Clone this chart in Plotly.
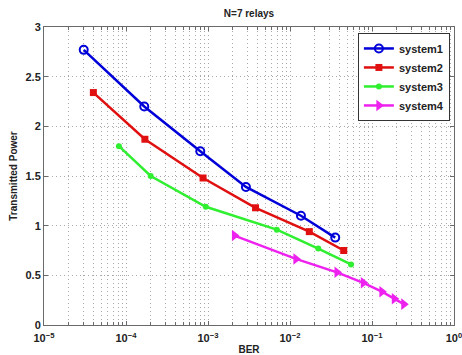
import plotly.graph_objects as go

# Transmitted power vs. BER for four relay systems (N = 7 relays)
ber_sys1 = [3.05e-5, 1.67e-4, 8.05e-4, 2.9e-3, 1.36e-2, 3.56e-2]
pow_sys1 = [2.77, 2.20, 1.75, 1.39, 1.10, 0.88]

ber_sys2 = [4.0e-5, 1.7e-4, 8.7e-4, 3.8e-3, 1.72e-2, 4.52e-2]
pow_sys2 = [2.34, 1.87, 1.48, 1.18, 0.94, 0.75]

ber_sys3 = [8.2e-5, 2.0e-4, 9.4e-4, 6.9e-3, 2.21e-2, 5.55e-2]
pow_sys3 = [1.80, 1.50, 1.19, 0.96, 0.77, 0.61]

ber_sys4 = [2.1e-3, 1.18e-2, 3.74e-2, 7.84e-2, 0.132, 0.187, 0.244]
pow_sys4 = [0.90, 0.665, 0.53, 0.425, 0.335, 0.265, 0.21]

x_tick_vals = [1e-5, 1e-4, 1e-3, 1e-2, 1e-1, 1e0]
x_tick_text = ["10<sup>\u22125</sup>", "10<sup>\u22124</sup>", "10<sup>\u22123</sup>",
               "10<sup>\u22122</sup>", "10<sup>\u22121</sup>", "10<sup>0</sup>"]
y_tick_vals = [0, 0.5, 1, 1.5, 2, 2.5, 3]
y_tick_text = ["0", "0.5", "1", "1.5", "2", "2.5", "3"]

FONT = "Liberation Sans"
GRID = "#a8a8a8"
FRAME = "#6a6a6a"
DOT = "1px,3px"

fig = go.Figure()

fig.add_trace(go.Scatter(
    x=ber_sys1, y=pow_sys1, name="system1", mode="lines+markers",
    line=dict(color="#0000d8", width=2.5),
    marker=dict(symbol="circle-open", size=8, color="#0000d8", line=dict(width=2)),
))
fig.add_trace(go.Scatter(
    x=ber_sys2, y=pow_sys2, name="system2", mode="lines+markers",
    line=dict(color="#e01010", width=2.5),
    marker=dict(symbol="square", size=7, color="#e01010"),
))
fig.add_trace(go.Scatter(
    x=ber_sys3, y=pow_sys3, name="system3", mode="lines+markers",
    line=dict(color="#30ee30", width=2.5),
    marker=dict(symbol="circle", size=6, color="#30ee30"),
))
fig.add_trace(go.Scatter(
    x=ber_sys4, y=pow_sys4, name="system4", mode="lines+markers",
    line=dict(color="#ee22ee", width=2.5),
    marker=dict(symbol="triangle-right", size=10, color="#ee22ee"),
))

fig.update_layout(
    width=462, height=355,
    margin=dict(l=44, r=8, t=27, b=30, autoexpand=False),
    paper_bgcolor="white", plot_bgcolor="white",
    font=dict(family=FONT, size=10, color="#222222"),
    title=dict(text="<b>N=7 relays</b>", x=249 / 462, xanchor="center",
               y=1 - 13 / 355, yanchor="middle",
               font=dict(family=FONT, size=10, color="#222222")),
    showlegend=True,
    legend=dict(
        x=0.99, xanchor="right", y=0.98, yanchor="top",
        bgcolor="white", bordercolor="#333333", borderwidth=1,
        font=dict(family=FONT, size=11, color="#222222", weight="bold"),
        tracegroupgap=0, itemwidth=30,
    ),
)

fig.update_xaxes(
    type="log", range=[-5, 0], automargin=False,
    tickvals=x_tick_vals, ticktext=x_tick_text, ticklabeloverflow="allow",
    tickfont=dict(family=FONT, size=11, color="#222222", weight="bold"),
    ticks="inside", ticklen=4, tickcolor=FRAME, ticklabelstandoff=3,
    showline=True, linecolor=FRAME, linewidth=1, mirror="ticks",
    showgrid=True, gridcolor=GRID, griddash=DOT, gridwidth=1,
    zeroline=False,
    minor=dict(dtick="D1", ticks="inside", ticklen=3, tickcolor=FRAME,
               showgrid=True, gridcolor=GRID, griddash=DOT, gridwidth=1),
    title=dict(text="<b>BER</b>", standoff=2,
               font=dict(family=FONT, size=10, color="#222222")),
)
fig.update_yaxes(
    range=[0, 3], automargin=False,
    tickvals=y_tick_vals, ticktext=y_tick_text, ticklabeloverflow="allow",
    tickfont=dict(family=FONT, size=11, color="#222222", weight="bold"),
    ticks="inside", ticklen=4, tickcolor=FRAME,
    showline=True, linecolor=FRAME, linewidth=1, mirror="ticks",
    showgrid=True, gridcolor=GRID, griddash=DOT, gridwidth=1,
    zeroline=False,
    title=dict(text="<b>Transmitted Power</b>", standoff=6,
               font=dict(family=FONT, size=10, color="#222222")),
)

fig.write_html("out.html")
